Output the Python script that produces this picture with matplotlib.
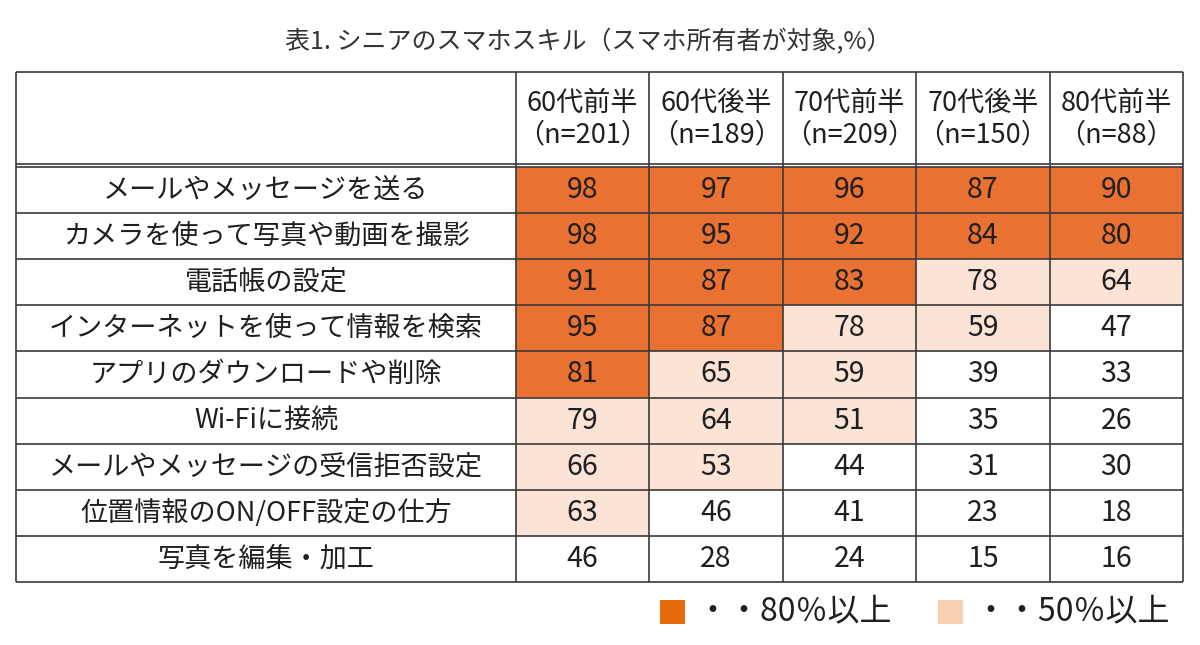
import matplotlib.pyplot as plt
from matplotlib.patches import Rectangle

plt.rcParams['font.family'] = ['Noto Sans CJK JP', 'DejaVu Sans']

# データ
title = '表1. シニアのスマホスキル（スマホ所有者が対象,%）'
groups = ['60代前半', '60代後半', '70代前半', '70代後半', '80代前半']
n_sizes = [201, 189, 209, 150, 88]
skills = ['メールやメッセージを送る',
          'カメラを使って写真や動画を撮影',
          '電話帳の設定',
          'インターネットを使って情報を検索',
          'アプリのダウンロードや削除',
          'Wi-Fiに接続',
          'メールやメッセージの受信拒否設定',
          '位置情報のON/OFF設定の仕方',
          '写真を編集・加工']
v60a = [98, 98, 91, 95, 81, 79, 66, 63, 46]
v60b = [97, 95, 87, 87, 65, 64, 53, 46, 28]
v70a = [96, 92, 83, 78, 59, 51, 44, 41, 24]
v70b = [87, 84, 78, 59, 39, 35, 31, 23, 15]
v80a = [90, 80, 64, 47, 33, 26, 30, 18, 16]
columns = [v60a, v60b, v70a, v70b, v80a]
thresholds = [80, 50]
legend_labels = ['・・80％以上', '・・50％以上']

# 見た目
dark = '#E97132'
light = '#FBE3D6'
legend_colors = ['#E46C0A', '#F9D0B2']
line_col = '#3a3a3a'
txt_col = '#1f1f1f'
fs = 19.5

# レイアウト（ピクセル）
x0, lab_w, col_w = 16, 500, 133.4
y0, head_bot, body_top, row_h = 72, 163.5, 167, 46.1

fig = plt.figure(figsize=(12, 6.45), dpi=100)
ax = fig.add_axes([0, 0, 1, 1])
ax.set_xlim(0, 1200)
ax.set_ylim(645, 0)
ax.axis('off')

ax.text(588, 42, title, ha='center', va='center', fontsize=18, color='#333333')

n_rows = len(skills)
bottom = body_top + n_rows * row_h
right = x0 + lab_w + len(groups) * col_w

# セル
for j, vals in enumerate(columns):
    cx = x0 + lab_w + j * col_w
    for i, v in enumerate(vals):
        cy = body_top + i * row_h
        if v >= thresholds[0]:
            ax.add_patch(Rectangle((cx, cy), col_w, row_h, color=dark, lw=0))
        elif v >= thresholds[1]:
            ax.add_patch(Rectangle((cx, cy), col_w, row_h, color=light, lw=0))
        ax.text(cx + col_w / 2, cy + row_h / 2, str(v), ha='center',
                va='center', fontsize=20.5, color=txt_col)

# ヘッダー
for j, g in enumerate(groups):
    cx = x0 + lab_w + (j + 0.5) * col_w
    ax.text(cx, 103, g, ha='center', va='center', fontsize=fs, color=txt_col)
    ax.text(cx, 135, f'（n={n_sizes[j]}）', ha='center', va='center',
            fontsize=fs, color=txt_col)

# 行ラベル
for i, s in enumerate(skills):
    ax.text(x0 + lab_w / 2, body_top + (i + 0.5) * row_h, s, ha='center',
            va='center', fontsize=fs, color=txt_col)

# 罫線
hy = [y0, head_bot] + [body_top + k * row_h for k in range(n_rows + 1)]
ax.hlines(hy, x0, right, colors=line_col, lw=1.2)
vx = [x0] + [x0 + lab_w + j * col_w for j in range(len(groups) + 1)]
ax.vlines(vx, y0, bottom, colors=line_col, lw=1.2)

# 凡例
leg_x = [660, 938]
for k in range(2):
    ax.add_patch(Rectangle((leg_x[k], 600), 25, 24, color=legend_colors[k], lw=0))
    ax.text(leg_x[k] + 36, 612, legend_labels[k], ha='left', va='center',
            fontsize=23, color=txt_col)

fig.savefig('out.png', dpi=100, facecolor='white')
